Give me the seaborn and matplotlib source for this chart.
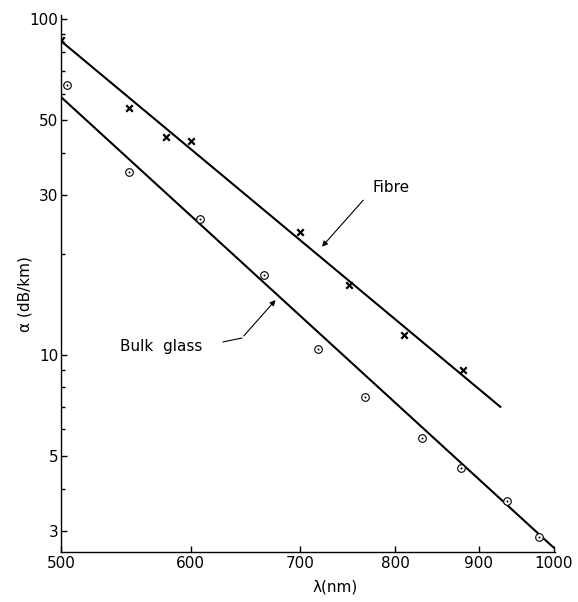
import numpy as np
import pandas as pd
import seaborn as sns
import matplotlib.pyplot as plt
from matplotlib.ticker import FixedLocator, NullFormatter

# data (log-log axes)
fibre_wl = [500, 550, 580, 600, 700, 750, 810, 880]
fibre_att = [86.6, 54.3, 44.6, 43.4, 23.2, 16.2, 11.5, 9.0]

bulk_wl = [504, 550, 608, 665, 718, 767, 831, 878, 937, 980]
bulk_att = [63.6, 35.0, 25.4, 17.3, 10.4, 7.5, 5.66, 4.61, 3.68, 2.87]

# fitted straight lines (end points)
fibre_fit_wl = [500, 928]
fibre_fit_att = [86.0, 7.0]
bulk_fit_wl = [500, 1000]
bulk_fit_att = [58.6, 2.67]

x_ticks = [500, 600, 700, 800, 900, 1000]
y_major = [3, 5, 10, 30, 50, 100]
y_minor = [4, 6, 7, 8, 9, 20, 40, 60, 70, 80, 90]

fibre = pd.DataFrame({'wl': fibre_wl, 'att': fibre_att})
bulk = pd.DataFrame({'wl': bulk_wl, 'att': bulk_att})

sns.set_style('ticks')
plt.rcParams['font.family'] = ['DejaVu Sans']
plt.rcParams.update({'text.color': 'black', 'axes.labelcolor': 'black',
                     'xtick.color': 'black', 'ytick.color': 'black',
                     'axes.edgecolor': 'black'})

fig = plt.figure(figsize=(5.78, 6.02), dpi=100)
ax = fig.add_axes([61 / 578, 50 / 602, 494 / 578, 537 / 602])

sns.lineplot(x=fibre_fit_wl, y=fibre_fit_att, color='black', lw=1.5, ax=ax)
sns.lineplot(x=bulk_fit_wl, y=bulk_fit_att, color='black', lw=1.5, ax=ax)

sns.scatterplot(data=fibre, x='wl', y='att', marker='x', s=22, color='black',
                linewidth=1.6, ax=ax, zorder=3)
sns.scatterplot(data=bulk, x='wl', y='att', marker='o', s=30, facecolor='white',
                edgecolor='black', linewidth=0.8, ax=ax, zorder=3)
sns.scatterplot(data=bulk, x='wl', y='att', marker='o', s=2, color='black',
                linewidth=0, ax=ax, zorder=4)

ax.set_xscale('log')
ax.set_yscale('log')
ax.set_xlim(500, 1002)
ax.set_ylim(2.59, 102.8)

ax.xaxis.set_major_locator(FixedLocator(x_ticks))
ax.xaxis.set_minor_locator(FixedLocator([]))
ax.set_xticklabels([str(t) for t in x_ticks])
ax.yaxis.set_major_locator(FixedLocator(y_major))
ax.yaxis.set_minor_locator(FixedLocator(y_minor))
ax.set_yticklabels([str(t) for t in y_major])
ax.yaxis.set_minor_formatter(NullFormatter())

ax.tick_params(axis='both', which='major', direction='in', length=4, width=1,
               labelsize=11, pad=3)
ax.tick_params(axis='y', which='major', pad=2)
ax.tick_params(axis='y', which='minor', direction='in', length=3, width=1)
for s in ['top', 'right']:
    ax.spines[s].set_visible(False)
for s in ['left', 'bottom']:
    ax.spines[s].set_linewidth(1)

ax.set_xlabel('λ(nm)', fontsize=11)
ax.set_ylabel('α (dB/km)', fontsize=11)
ax.xaxis.set_label_coords(0.555, -0.052)
ax.yaxis.set_label_coords(-0.058, 0.48)

# annotations
ax.text(796, 31.6, 'Fibre', fontsize=11, ha='center', va='center')
ax.annotate('', xy=(720, 20.7), xytext=(767, 29.3),
            arrowprops=dict(arrowstyle='-|>', color='black', lw=0.8,
                            mutation_scale=8))
ax.text(576, 10.56, 'Bulk  glass', fontsize=11, ha='center', va='center')
ax.plot([628, 645], [10.93, 11.23], color='black', lw=0.8)
ax.annotate('', xy=(678, 14.78), xytext=(645, 11.23),
            arrowprops=dict(arrowstyle='-|>', color='black', lw=0.8,
                            mutation_scale=8))

fig.savefig('out.png', dpi=100)
